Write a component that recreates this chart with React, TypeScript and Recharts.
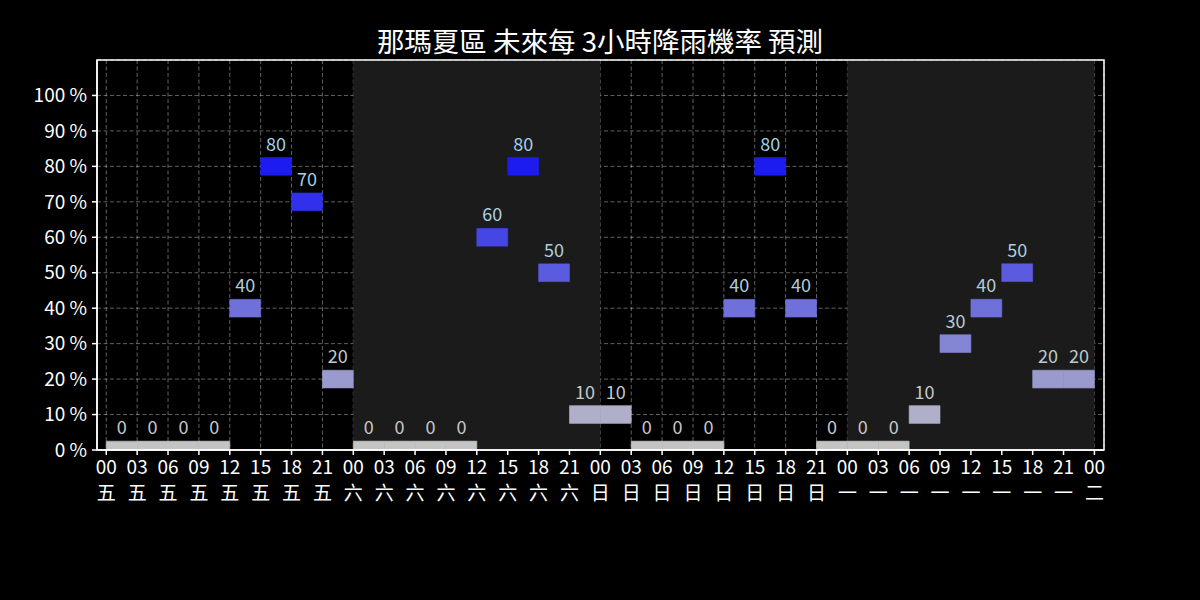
import {
	ComposedChart,
	CartesianGrid,
	ReferenceArea,
	XAxis,
	YAxis,
} from "recharts";

// 3-hour slots, one value per interval between consecutive ticks
const hourLabels = [
	"00", "03", "06", "09", "12", "15", "18", "21",
	"00", "03", "06", "09", "12", "15", "18", "21",
	"00", "03", "06", "09", "12", "15", "18", "21",
	"00", "03", "06", "09", "12", "15", "18", "21",
	"00",
];
const dayLabels = [
	"五", "五", "五", "五", "五", "五", "五", "五",
	"六", "六", "六", "六", "六", "六", "六", "六",
	"日", "日", "日", "日", "日", "日", "日", "日",
	"一", "一", "一", "一", "一", "一", "一", "一",
	"二",
];
const rainChance = [
	0, 0, 0, 0, 40, 80, 70, 20,
	0, 0, 0, 0, 60, 80, 50, 10,
	10, 0, 0, 0, 40, 80, 40, 0,
	0, 0, 10, 30, 40, 50, 20, 20,
];
// tick index ranges of the shaded days (六, 一)
const shadedDays = [
	[8, 16],
	[24, 32],
];
const yTicks = [0, 10, 20, 30, 40, 50, 60, 70, 80, 90, 100];

const title = "那瑪夏區 未來每 3小時降雨機率 預測";
const font = "'Noto Sans CJK TC', 'Noto Sans', sans-serif";
const xDomain: [number, number] = [-0.3, 32.31];
const yDomain: [number, number] = [0, 110];

function barColor(v: number) {
	const c = Math.round(196 - 2.1 * v);
	const b = Math.round(196 + 0.55 * v);
	return `rgb(${c},${c},${b})`;
}

// gray for dry slots, light blue for wet ones
function labelColor(v: number) {
	const r = Math.round(200 - 0.5 * v);
	const g = Math.round(200 + 0.1 * v);
	const b = Math.round(200 + 0.4 * v);
	return `rgb(${r},${g},${b})`;
}

function XTick(props: any) {
	const { x, y, payload } = props;
	const i = payload.value;
	return (
		<text x={x} y={y} textAnchor="middle" fill="#fff" fontSize={19}>
			<tspan x={x} dy={17}>
				{hourLabels[i]}
			</tspan>
			<tspan x={x} dy={26}>
				{dayLabels[i]}
			</tspan>
		</text>
	);
}

const xTicks = hourLabels.map((_, i) => i);
const data = rainChance.map((v, i) => ({ x: i + 0.5, v }));

export default function App() {
	return (
		<div
			style={{
				position: "absolute",
				left: 0,
				top: 0,
				width: 1200,
				height: 600,
				background: "#000",
				fontFamily: font,
			}}
		>
			<div
				style={{
					position: "absolute",
					top: 20,
					left: 0,
					width: 1200,
					textAlign: "center",
					color: "#fff",
					fontSize: 27.5,
					lineHeight: "40px",
				}}
			>
				{title}
			</div>
			<ComposedChart
				width={1200}
				height={600}
				data={data}
				margin={{ top: 60, right: 96, bottom: 90, left: 37 }}
			>
				{shadedDays.map(([a, b]) => (
					<ReferenceArea
						key={`d${a}`}
						x1={a}
						x2={b}
						y1={yDomain[0]}
						y2={yDomain[1]}
						fill="#1b1b1b"
						fillOpacity={1}
						stroke="none"
						ifOverflow="hidden"
					/>
				))}
				{rainChance.map((v, i) => (
					<ReferenceArea
						key={`b${i}`}
						x1={i}
						x2={i + 1}
						y1={Math.max(0, v - 2.5)}
						y2={v + 2.5}
						fill={barColor(v)}
						fillOpacity={1}
						stroke={barColor(v)}
						strokeWidth={0.6}
						label={{
							value: v,
							position: "top",
							fill: labelColor(v),
							fontSize: 18,
							offset: 7,
						}}
					/>
				))}
				<CartesianGrid
					stroke="#fff"
					strokeOpacity={0.38}
					strokeDasharray="4 2.5"
				/>
				{/* plot frame */}
				<ReferenceArea
					x1={xDomain[0]}
					x2={xDomain[1]}
					y1={yDomain[0]}
					y2={yDomain[1]}
					fill="none"
					stroke="#fff"
					strokeWidth={1.5}
					ifOverflow="visible"
				/>
				<XAxis
					dataKey="x"
					type="number"
					domain={xDomain}
					ticks={xTicks}
					interval={0}
					allowDataOverflow
					height={60}
					stroke="#fff"
					strokeWidth={1.5}
					tickSize={5}
					tick={<XTick />}
				/>
				<YAxis
					type="number"
					domain={yDomain}
					ticks={yTicks}
					allowDataOverflow
					width={60}
					stroke="#fff"
					strokeWidth={1.5}
					tickSize={5}
					tickMargin={5}
					tick={{ fill: "#fff", fontSize: 19 }}
					tickFormatter={(v: number) => `${v} %`}
				/>
			</ComposedChart>
		</div>
	);
}
